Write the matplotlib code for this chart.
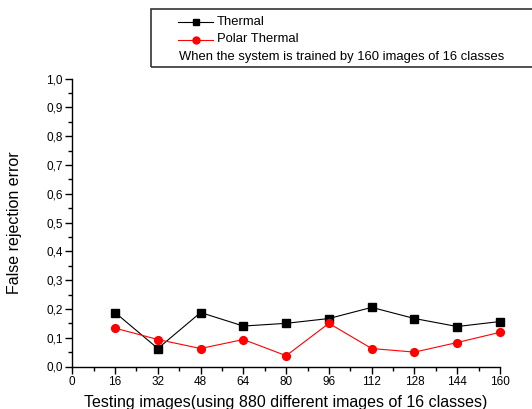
import matplotlib
matplotlib.use("Agg")
import matplotlib.pyplot as plt
from matplotlib.lines import Line2D
from matplotlib.patches import Rectangle
from matplotlib.ticker import MultipleLocator, FuncFormatter

plt.rcParams['font.family'] = ['Liberation Sans', 'DejaVu Sans']

x_values = [16, 32, 48, 64, 80, 96, 112, 128, 144, 160]
thermal = [0.1875, 0.0625, 0.1875, 0.1406, 0.15, 0.1667, 0.2054, 0.1667, 0.1389, 0.1563]
polar_thermal = [0.1333, 0.0938, 0.0625, 0.0938, 0.0375, 0.15, 0.0625, 0.05, 0.0833, 0.1188]
series_labels = ["Thermal", "Polar Thermal"]
note_text = "When the system is trained by 160 images of 16 classes"
x_label = "Testing images(using 880 different images of 16 classes)"
y_label = "False rejection error"

W, H = 532, 409
fig = plt.figure(figsize=(W / 100, H / 100), dpi=100)
ax = fig.add_axes([72.3 / W, (H - 366.5) / H, (500 - 72.3) / W, (366.5 - 78.7) / H])

ax.plot(x_values, thermal, color='black', lw=0.8, marker='s', ms=5.2,
        mfc='black', mec='black', clip_on=False)
ax.plot(x_values, polar_thermal, color='red', lw=0.8, marker='o', ms=5.6,
        mfc='red', mec='red', clip_on=False)

ax.set_xlim(0, 160)
ax.set_ylim(0, 1.0)
ax.xaxis.set_major_locator(MultipleLocator(16))
ax.xaxis.set_minor_locator(MultipleLocator(8))
ax.yaxis.set_major_locator(MultipleLocator(0.1))
ax.yaxis.set_minor_locator(MultipleLocator(0.05))
ax.yaxis.set_major_formatter(FuncFormatter(lambda v, p: f"{v:.1f}".replace('.', ',')))
for s in ['top', 'right']:
    ax.spines[s].set_visible(False)
for s in ['left', 'bottom']:
    ax.spines[s].set_linewidth(1.0)
ax.tick_params(which='major', direction='out', length=5, width=1.0, labelsize=8.5, pad=2)
ax.tick_params(which='minor', direction='out', length=3, width=1.0)
ax.set_xlabel(x_label, fontsize=11.5)
ax.set_ylabel(y_label, fontsize=11.5)
ax.xaxis.set_label_coords(0.5, -(403 - 366.5) / (366.5 - 78.7), transform=ax.transAxes)
ax.xaxis.label.set_va('center')
ax.yaxis.set_label_coords(-(72.3 - 15) / (500 - 72.3), 0.5, transform=ax.transAxes)
ax.yaxis.label.set_va('center')

# legend box (figure pixel coordinates)
def fx(px):
    return px / W

def fy(py):
    return (H - py) / H

rect = Rectangle((fx(151), fy(67)), fx(600) - fx(151), fy(9.5) - fy(67),
                 transform=fig.transFigure, fill=False, edgecolor='#333333', lw=1.2)
fig.add_artist(rect)
rows = [21.7, 39.5, 57.3]
styles = [dict(color='black', marker='s', ms=4.2), dict(color='red', marker='o', ms=5)]
for i, lab in enumerate(series_labels):
    fig.add_artist(Line2D([fx(178), fx(213)], [fy(rows[i])] * 2, transform=fig.transFigure,
                          color=styles[i]['color'], lw=0.8))
    fig.add_artist(Line2D([fx(196)], [fy(rows[i])], transform=fig.transFigure,
                          color=styles[i]['color'], marker=styles[i]['marker'],
                          ms=styles[i]['ms'], lw=0))
    fig.text(fx(217), fy(rows[i]), lab, fontsize=9.4, va='center', ha='left')
fig.text(fx(179), fy(rows[2]), note_text, fontsize=9.4, va='center', ha='left')

fig.savefig("out.png", dpi=100)
